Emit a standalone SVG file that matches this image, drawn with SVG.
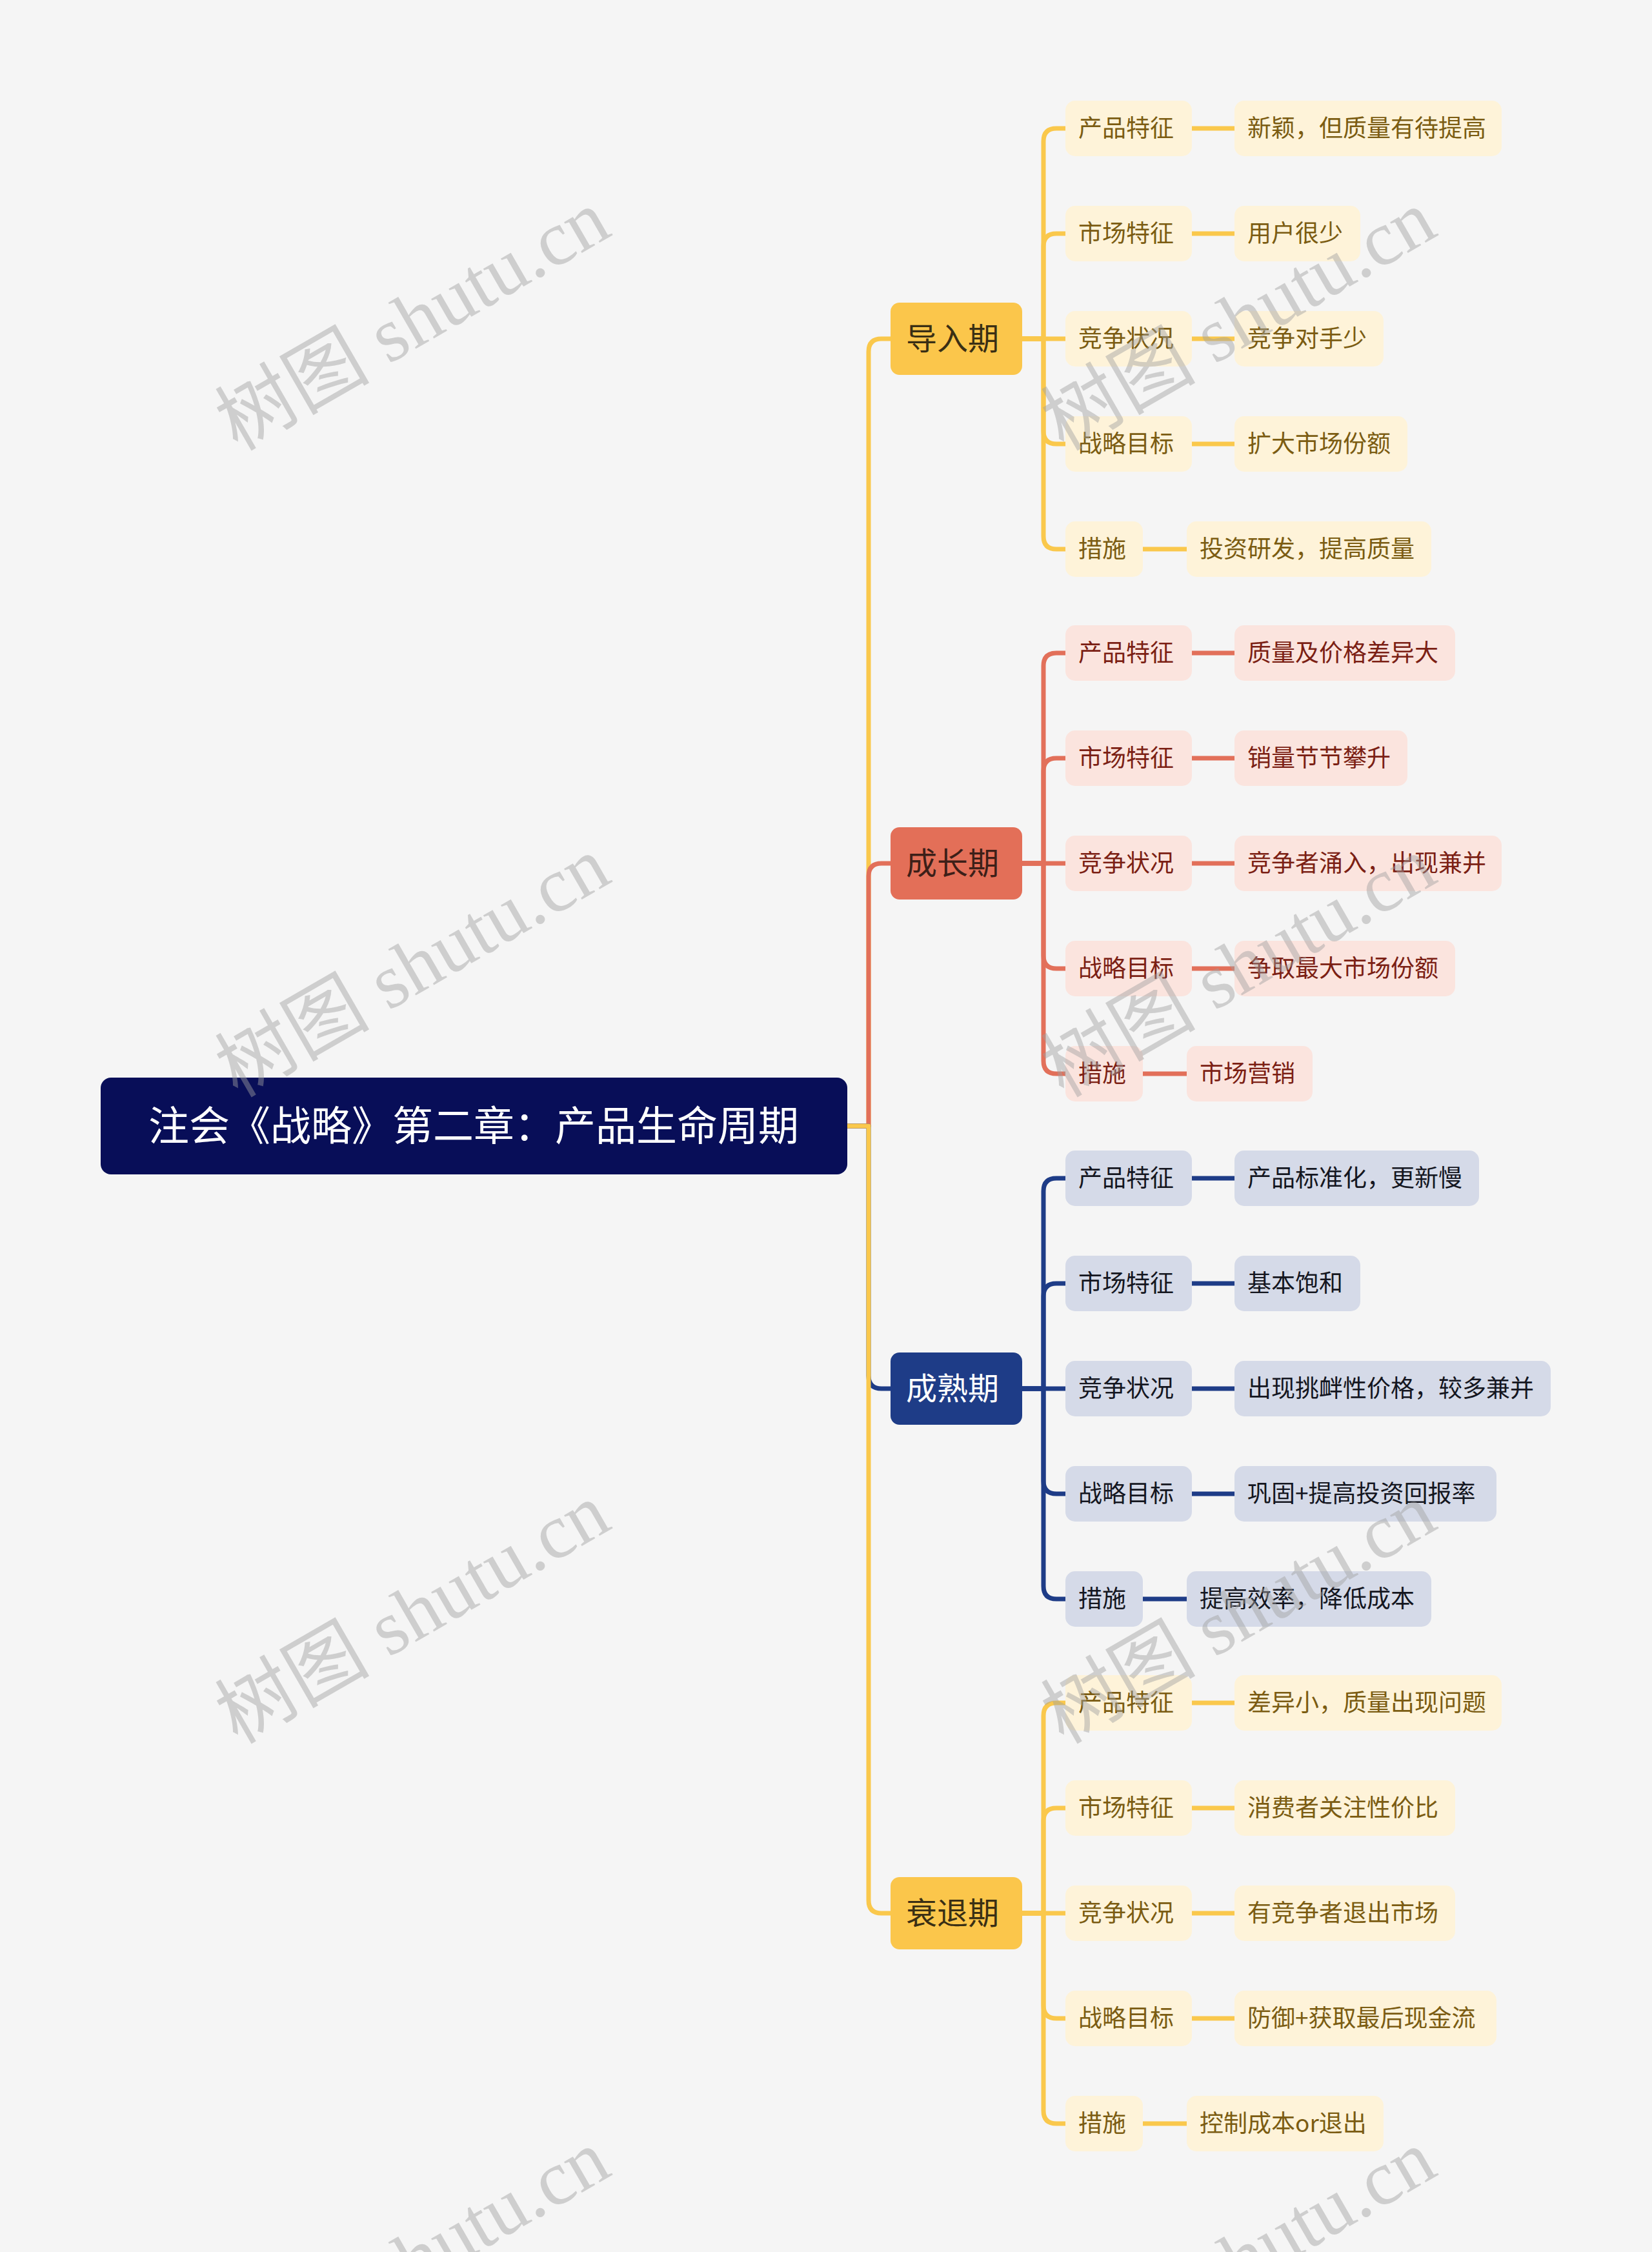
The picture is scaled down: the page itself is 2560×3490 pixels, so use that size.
<svg xmlns="http://www.w3.org/2000/svg" width="2560" height="3490" viewBox="0 0 2560 3490">
<style>
  text { font-family: "Noto Sans CJK SC", "Noto Sans", sans-serif; }
  .root-box { fill: #080e58; }
  .root-txt { fill: #ffffff; font-size: 63px; text-anchor: middle; }
  .l1-txt { font-size: 48px; text-anchor: middle; }
  .l2-txt { font-size: 37px; }
  .c { fill: none; stroke-width: 7; stroke-linejoin: round; }
  .cy { stroke: #fac84c; }
  .cr { stroke: #e2705a; }
  .cb { stroke: #1e3c87; }
  .y1 { fill: #fbc64b; } .y1t { fill: #3a2f14; }
  .r1 { fill: #e36f58; } .r1t { fill: #3d1f18; }
  .b1 { fill: #1e3c87; } .b1t { fill: #ffffff; }
  .y2 { fill: #fef3d9; } .y2t { fill: #7b5c12; }
  .r2 { fill: #fbe4de; } .r2t { fill: #7b1f14; }
  .b2 { fill: #d5dae8; } .b2t { fill: #14161f; }
  .wm { font-family: "Liberation Serif", "Noto Sans CJK SC", serif; font-size: 120px; fill: #a0a0a0; fill-opacity: 0.45; }
</style>
<rect x="0" y="0" width="2560" height="3490" fill="#f5f5f5"/>

<g id="connectors">
  <path class="c cy" d="M1313 1745 H1346 V545 Q1346 525 1366 525 H1380"/>
  <path class="c cr" d="M1313 1745 H1346 V1358 Q1346 1338 1366 1338 H1380"/>
  <path class="c cb" d="M1313 1745 H1346 V2132 Q1346 2152 1366 2152 H1380"/>
  <path class="c cy" d="M1313 1745 H1346 V2945 Q1346 2965 1366 2965 H1380"/>

  <path class="c cy" d="M1584 525 H1617 V219 Q1617 199 1637 199 H1651"/>
  <path class="c cy" d="M1584 525 H1617 V382 Q1617 362 1637 362 H1651"/>
  <path class="c cy" d="M1584 525 H1651"/>
  <path class="c cy" d="M1584 525 H1617 V668 Q1617 688 1637 688 H1651"/>
  <path class="c cy" d="M1584 525 H1617 V831 Q1617 851 1637 851 H1651"/>
  <path class="c cy" d="M1847 199 H1913 M1847 362 H1913 M1847 525 H1913 M1847 688 H1913 M1771 851 H1839"/>

  <path class="c cr" d="M1584 1338 H1617 V1032 Q1617 1012 1637 1012 H1651"/>
  <path class="c cr" d="M1584 1338 H1617 V1195 Q1617 1175 1637 1175 H1651"/>
  <path class="c cr" d="M1584 1338 H1651"/>
  <path class="c cr" d="M1584 1338 H1617 V1481 Q1617 1501 1637 1501 H1651"/>
  <path class="c cr" d="M1584 1338 H1617 V1644 Q1617 1664 1637 1664 H1651"/>
  <path class="c cr" d="M1847 1012 H1913 M1847 1175 H1913 M1847 1338 H1913 M1847 1501 H1913 M1771 1664 H1839"/>

  <path class="c cb" d="M1584 2152 H1617 V1846 Q1617 1826 1637 1826 H1651"/>
  <path class="c cb" d="M1584 2152 H1617 V2009 Q1617 1989 1637 1989 H1651"/>
  <path class="c cb" d="M1584 2152 H1651"/>
  <path class="c cb" d="M1584 2152 H1617 V2295 Q1617 2315 1637 2315 H1651"/>
  <path class="c cb" d="M1584 2152 H1617 V2458 Q1617 2478 1637 2478 H1651"/>
  <path class="c cb" d="M1847 1826 H1913 M1847 1989 H1913 M1847 2152 H1913 M1847 2315 H1913 M1771 2478 H1839"/>

  <path class="c cy" d="M1584 2965 H1617 V2659 Q1617 2639 1637 2639 H1651"/>
  <path class="c cy" d="M1584 2965 H1617 V2822 Q1617 2802 1637 2802 H1651"/>
  <path class="c cy" d="M1584 2965 H1651"/>
  <path class="c cy" d="M1584 2965 H1617 V3108 Q1617 3128 1637 3128 H1651"/>
  <path class="c cy" d="M1584 2965 H1617 V3271 Q1617 3291 1637 3291 H1651"/>
  <path class="c cy" d="M1847 2639 H1913 M1847 2802 H1913 M1847 2965 H1913 M1847 3128 H1913 M1771 3291 H1839"/>
</g>

<g id="root">
  <rect class="root-box" x="156" y="1670" width="1157" height="150" rx="16"/>
  <text class="root-txt" x="734" y="1767">注会《战略》第二章：产品生命周期</text>
</g>

<g id="n-daoru"><rect class="y1" x="1380" y="469" width="204" height="112" rx="14"/><text class="l1-txt y1t" x="1476" y="542">导入期</text></g>
<g id="n-chengzhang"><rect class="r1" x="1380" y="1282" width="204" height="112" rx="14"/><text class="l1-txt r1t" x="1476" y="1355">成长期</text></g>
<g id="n-chengshu"><rect class="b1" x="1380" y="2096" width="204" height="112" rx="14"/><text class="l1-txt b1t" x="1476" y="2169">成熟期</text></g>
<g id="n-shuaitui"><rect class="y1" x="1380" y="2909" width="204" height="112" rx="14"/><text class="l1-txt y1t" x="1476" y="2982">衰退期</text></g>

<g id="n1-1"><rect class="y2" x="1651" y="156" width="196" height="86" rx="15"/><text class="l2-txt y2t" x="1671" y="212">产品特征</text></g>
<g id="n1-1a"><rect class="y2" x="1913" y="156" width="414" height="86" rx="15"/><text class="l2-txt y2t" x="1933" y="212">新颖，但质量有待提高</text></g>
<g id="n1-2"><rect class="y2" x="1651" y="319" width="196" height="86" rx="15"/><text class="l2-txt y2t" x="1671" y="375">市场特征</text></g>
<g id="n1-2a"><rect class="y2" x="1913" y="319" width="195" height="86" rx="15"/><text class="l2-txt y2t" x="1933" y="375">用户很少</text></g>
<g id="n1-3"><rect class="y2" x="1651" y="482" width="196" height="86" rx="15"/><text class="l2-txt y2t" x="1671" y="538">竞争状况</text></g>
<g id="n1-3a"><rect class="y2" x="1913" y="482" width="231" height="86" rx="15"/><text class="l2-txt y2t" x="1933" y="538">竞争对手少</text></g>
<g id="n1-4"><rect class="y2" x="1651" y="645" width="196" height="86" rx="15"/><text class="l2-txt y2t" x="1671" y="701">战略目标</text></g>
<g id="n1-4a"><rect class="y2" x="1913" y="645" width="268" height="86" rx="15"/><text class="l2-txt y2t" x="1933" y="701">扩大市场份额</text></g>
<g id="n1-5"><rect class="y2" x="1651" y="808" width="120" height="86" rx="15"/><text class="l2-txt y2t" x="1671" y="864">措施</text></g>
<g id="n1-5a"><rect class="y2" x="1839" y="808" width="379" height="86" rx="15"/><text class="l2-txt y2t" x="1859" y="864">投资研发，提高质量</text></g>

<g id="n2-1"><rect class="r2" x="1651" y="969" width="196" height="86" rx="15"/><text class="l2-txt r2t" x="1671" y="1025">产品特征</text></g>
<g id="n2-1a"><rect class="r2" x="1913" y="969" width="342" height="86" rx="15"/><text class="l2-txt r2t" x="1933" y="1025">质量及价格差异大</text></g>
<g id="n2-2"><rect class="r2" x="1651" y="1132" width="196" height="86" rx="15"/><text class="l2-txt r2t" x="1671" y="1188">市场特征</text></g>
<g id="n2-2a"><rect class="r2" x="1913" y="1132" width="268" height="86" rx="15"/><text class="l2-txt r2t" x="1933" y="1188">销量节节攀升</text></g>
<g id="n2-3"><rect class="r2" x="1651" y="1295" width="196" height="86" rx="15"/><text class="l2-txt r2t" x="1671" y="1351">竞争状况</text></g>
<g id="n2-3a"><rect class="r2" x="1913" y="1295" width="414" height="86" rx="15"/><text class="l2-txt r2t" x="1933" y="1351">竞争者涌入，出现兼并</text></g>
<g id="n2-4"><rect class="r2" x="1651" y="1458" width="196" height="86" rx="15"/><text class="l2-txt r2t" x="1671" y="1514">战略目标</text></g>
<g id="n2-4a"><rect class="r2" x="1913" y="1458" width="342" height="86" rx="15"/><text class="l2-txt r2t" x="1933" y="1514">争取最大市场份额</text></g>
<g id="n2-5"><rect class="r2" x="1651" y="1621" width="120" height="86" rx="15"/><text class="l2-txt r2t" x="1671" y="1677">措施</text></g>
<g id="n2-5a"><rect class="r2" x="1839" y="1621" width="195" height="86" rx="15"/><text class="l2-txt r2t" x="1859" y="1677">市场营销</text></g>

<g id="n3-1"><rect class="b2" x="1651" y="1783" width="196" height="86" rx="15"/><text class="l2-txt b2t" x="1671" y="1839">产品特征</text></g>
<g id="n3-1a"><rect class="b2" x="1913" y="1783" width="379" height="86" rx="15"/><text class="l2-txt b2t" x="1933" y="1839">产品标准化，更新慢</text></g>
<g id="n3-2"><rect class="b2" x="1651" y="1946" width="196" height="86" rx="15"/><text class="l2-txt b2t" x="1671" y="2002">市场特征</text></g>
<g id="n3-2a"><rect class="b2" x="1913" y="1946" width="195" height="86" rx="15"/><text class="l2-txt b2t" x="1933" y="2002">基本饱和</text></g>
<g id="n3-3"><rect class="b2" x="1651" y="2109" width="196" height="86" rx="15"/><text class="l2-txt b2t" x="1671" y="2165">竞争状况</text></g>
<g id="n3-3a"><rect class="b2" x="1913" y="2109" width="490" height="86" rx="15"/><text class="l2-txt b2t" x="1933" y="2165">出现挑衅性价格，较多兼并</text></g>
<g id="n3-4"><rect class="b2" x="1651" y="2272" width="196" height="86" rx="15"/><text class="l2-txt b2t" x="1671" y="2328">战略目标</text></g>
<g id="n3-4a"><rect class="b2" x="1913" y="2272" width="406" height="86" rx="15"/><text class="l2-txt b2t" x="1933" y="2328">巩固+提高投资回报率</text></g>
<g id="n3-5"><rect class="b2" x="1651" y="2435" width="120" height="86" rx="15"/><text class="l2-txt b2t" x="1671" y="2491">措施</text></g>
<g id="n3-5a"><rect class="b2" x="1839" y="2435" width="379" height="86" rx="15"/><text class="l2-txt b2t" x="1859" y="2491">提高效率，降低成本</text></g>

<g id="n4-1"><rect class="y2" x="1651" y="2596" width="196" height="86" rx="15"/><text class="l2-txt y2t" x="1671" y="2652">产品特征</text></g>
<g id="n4-1a"><rect class="y2" x="1913" y="2596" width="414" height="86" rx="15"/><text class="l2-txt y2t" x="1933" y="2652">差异小，质量出现问题</text></g>
<g id="n4-2"><rect class="y2" x="1651" y="2759" width="196" height="86" rx="15"/><text class="l2-txt y2t" x="1671" y="2815">市场特征</text></g>
<g id="n4-2a"><rect class="y2" x="1913" y="2759" width="342" height="86" rx="15"/><text class="l2-txt y2t" x="1933" y="2815">消费者关注性价比</text></g>
<g id="n4-3"><rect class="y2" x="1651" y="2922" width="196" height="86" rx="15"/><text class="l2-txt y2t" x="1671" y="2978">竞争状况</text></g>
<g id="n4-3a"><rect class="y2" x="1913" y="2922" width="342" height="86" rx="15"/><text class="l2-txt y2t" x="1933" y="2978">有竞争者退出市场</text></g>
<g id="n4-4"><rect class="y2" x="1651" y="3085" width="196" height="86" rx="15"/><text class="l2-txt y2t" x="1671" y="3141">战略目标</text></g>
<g id="n4-4a"><rect class="y2" x="1913" y="3085" width="406" height="86" rx="15"/><text class="l2-txt y2t" x="1933" y="3141">防御+获取最后现金流</text></g>
<g id="n4-5"><rect class="y2" x="1651" y="3248" width="120" height="86" rx="15"/><text class="l2-txt y2t" x="1671" y="3304">措施</text></g>
<g id="n4-5a"><rect class="y2" x="1839" y="3248" width="305" height="86" rx="15"/><text class="l2-txt y2t" x="1859" y="3304">控制成本or退出</text></g>

<g id="watermarks">
  <text class="wm" transform="translate(368 700) rotate(-30)">树图 shutu.cn</text>
  <text class="wm" transform="translate(1648 700) rotate(-30)">树图 shutu.cn</text>
  <text class="wm" transform="translate(368 1702) rotate(-30)">树图 shutu.cn</text>
  <text class="wm" transform="translate(1648 1702) rotate(-30)">树图 shutu.cn</text>
  <text class="wm" transform="translate(368 2704) rotate(-30)">树图 shutu.cn</text>
  <text class="wm" transform="translate(1648 2704) rotate(-30)">树图 shutu.cn</text>
  <text class="wm" transform="translate(368 3706) rotate(-30)">树图 shutu.cn</text>
  <text class="wm" transform="translate(1648 3706) rotate(-30)">树图 shutu.cn</text>
</g>
</svg>
